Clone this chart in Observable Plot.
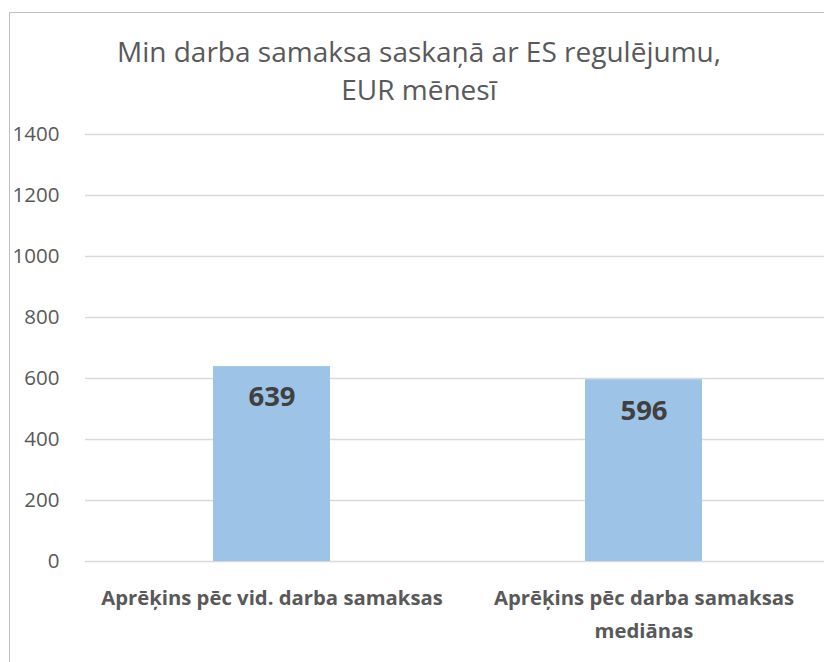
<!DOCTYPE html>
<html>
<head>
<meta charset="utf-8">
<script src="https://cdn.jsdelivr.net/npm/d3@7"></script>
<script src="https://cdn.jsdelivr.net/npm/@observablehq/plot@0.6"></script>
<style>
  body { margin: 0; background: #fff; }
  #wrap { position: relative; width: 824px; height: 662px; overflow: hidden; font-family: "Open Sans", sans-serif; }
  #frame { position: absolute; left: 9px; top: 12px; width: 900px; height: 700px; border: 1px solid #bfbfbf; box-sizing: border-box; }
  #title { position: absolute; left: 0; top: 0; width: 824px; height: 110px; }
  #title div { position: absolute; width: 838px; left: 0; text-align: center; color: #595959; font-size: 28px; line-height: 38px; }
  #chart { position: absolute; left: 0; top: 110px; }
</style>
</head>
<body>
<div id="wrap">
  <div id="frame"></div>
  <div id="title"><div style="top:32px">Min darba samaksa saskaņā ar ES regulējumu,<br>EUR mēnesī</div></div>
  <div id="chart"></div>
</div>
<script>
const categories = ["Aprēķins pēc vid. darba samaksas", "Aprēķins pēc darba samaksas mediānas"];
const categoryLabels = ["Aprēķins pēc vid. darba samaksas", "Aprēķins pēc darba samaksas\nmediānas"];
const values = [639, 596];
const yTicks = [0, 200, 400, 600, 800, 1000, 1200, 1400];

const data = categories.map((c, i) => ({category: c, value: values[i]}));
const labelMap = new Map(categories.map((c, i) => [c, categoryLabels[i]]));

const plot = Plot.plot({
  width: 824,
  height: 552,
  marginTop: 24,
  marginBottom: 101,
  marginLeft: 85,
  marginRight: 0,
  style: {fontFamily: "Open Sans, sans-serif", background: "transparent"},
  x: {domain: categories, range: [85, 830], paddingInner: 0.686, paddingOuter: 0.343},
  y: {domain: [0, 1400]},
  marks: [
    Plot.ruleY(yTicks, {stroke: "#d9d9d9", strokeWidth: 1.3}),
    Plot.barY(data, {x: "category", y: "value", fill: "#9dc3e6"}),
    Plot.text(data, {x: "category", y: "value", text: d => String(d.value), dy: 31, fontSize: 27.5, fontWeight: "bold", fill: "#404040"}),
    Plot.axisY({ticks: yTicks, tickSize: 0, tickPadding: 26, fontSize: 20.5, color: "#595959", label: null, tickFormat: d => String(d)}),
    Plot.axisX({tickSize: 0, tickPadding: 20, fontSize: 20.3, fontWeight: "bold", color: "#595959", label: null, lineHeight: 1.62, tickFormat: d => labelMap.get(d)})
  ]
});
document.getElementById("chart").appendChild(plot);
</script>
</body>
</html>
